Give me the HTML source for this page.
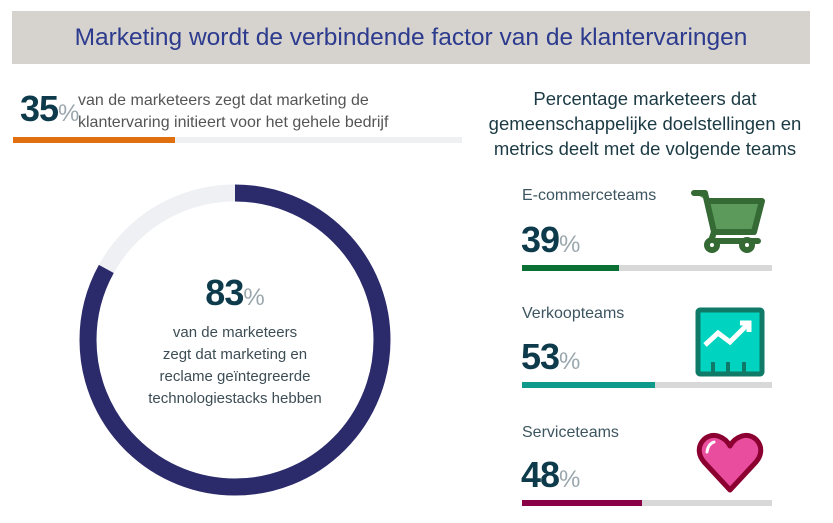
<!DOCTYPE html>
<html><head><style>
body{margin:0;width:833px;height:523px;background:#fff;position:relative;font-family:"Liberation Sans",sans-serif;overflow:hidden}
.a{position:absolute}
.num{font-weight:bold;color:#0e3b4b;font-size:36px;line-height:36px;letter-spacing:-1px}
.num span{font-weight:normal;color:#9aa7ad;font-size:24px;letter-spacing:0}
.lab{color:#3d5560;font-size:16px}
</style></head><body>
<div class="a" style="left:12px;top:11px;width:798px;height:53px;background:#d6d2cd"></div>
<div class="a" style="left:12px;top:24px;width:798px;text-align:center;font-size:24.5px;color:#2c3b8e">Marketing wordt de verbindende factor van de klantervaringen</div>
<div class="a num" style="left:20px;top:91px">35<span>%</span></div>
<div class="a" style="left:78px;top:90px;font-size:16px;line-height:22px;color:#555">van de marketeers zegt dat marketing de<br>klantervaring initieert voor het gehele bedrijf</div>
<div class="a" style="left:13px;top:137px;width:449px;height:6px;background:#eff0f2"></div>
<div class="a" style="left:13px;top:137px;width:162px;height:6px;background:#e0700f"></div>
<svg class="a" style="left:0;top:0" width="833" height="523">
<circle cx="235" cy="340" r="147" fill="none" stroke="#eef0f3" stroke-width="17"/>
<circle cx="235" cy="340" r="147" fill="none" stroke="#2b2a6b" stroke-width="17" stroke-dasharray="766.6 1000" transform="rotate(-90 235 340)"/>
</svg>
<div class="a num" style="left:135px;top:275px;width:200px;text-align:center">83<span>%</span></div>
<div class="a" style="left:110px;top:322px;width:250px;text-align:center;font-size:15px;line-height:22px;color:#3d4d55">van de marketeers<br>zegt dat marketing en<br>reclame geïntegreerde<br>technologiestacks hebben</div>
<div class="a" style="left:470px;top:86px;width:350px;text-align:center;font-size:18.5px;line-height:25px;color:#1b3a44">Percentage marketeers dat<br>gemeenschappelijke doelstellingen en<br>metrics deelt met de volgende teams</div>

<div class="a lab" style="left:522px;top:187px">E-commerceteams</div>
<div class="a num" style="left:521px;top:222px">39<span>%</span></div>
<div class="a" style="left:522px;top:265px;width:250px;height:6px;background:#d8d8d8"></div>
<div class="a" style="left:522px;top:265px;width:97px;height:6px;background:#0b7034"></div>

<div class="a lab" style="left:522px;top:305px">Verkoopteams</div>
<div class="a num" style="left:521px;top:339px">53<span>%</span></div>
<div class="a" style="left:522px;top:382px;width:250px;height:6px;background:#d8d8d8"></div>
<div class="a" style="left:522px;top:382px;width:133px;height:6px;background:#0e9a8a"></div>

<div class="a lab" style="left:522px;top:424px">Serviceteams</div>
<div class="a num" style="left:521px;top:457px">48<span>%</span></div>
<div class="a" style="left:522px;top:500px;width:250px;height:6px;background:#d8d8d8"></div>
<div class="a" style="left:522px;top:500px;width:120px;height:6px;background:#8a0046"></div>

<svg class="a" style="left:0;top:0" width="833" height="523">
<g stroke="#356a35" stroke-width="6" stroke-linejoin="round" stroke-linecap="round">
<path d="M694 193 H705 L714 232 H754 L762 201 H708" fill="#5b9a5b"/>
<path d="M714 232 L711 241 H758" fill="none"/>
<circle cx="712" cy="245" r="5" fill="#fff"/><circle cx="747" cy="245" r="5" fill="#fff"/>
</g>
<rect x="698" y="310" width="64" height="64" rx="2" fill="#00d3c0" stroke="#0f7a68" stroke-width="5"/>
<path d="M705 345 L718 333 L730 342 L748 324" fill="none" stroke="#fff" stroke-width="5"/>
<path d="M740 323 H749 V332" fill="none" stroke="#fff" stroke-width="5"/>
<path d="M713 362V373 M728 362V373 M744 362V373" stroke="#0f7a68" stroke-width="4"/>
<path d="M730 490 L704 462 C692 448 705 432 718 436 C724 438 728 442 730 446 C732 442 736 438 742 436 C755 432 768 448 756 462 Z" fill="#e94d9d" stroke="#8b0030" stroke-width="5" stroke-linejoin="round"/>
<path d="M707 452 Q708 444 714 442" fill="none" stroke="#fff" stroke-width="3" stroke-linecap="round"/>
</svg>
</body></html>
